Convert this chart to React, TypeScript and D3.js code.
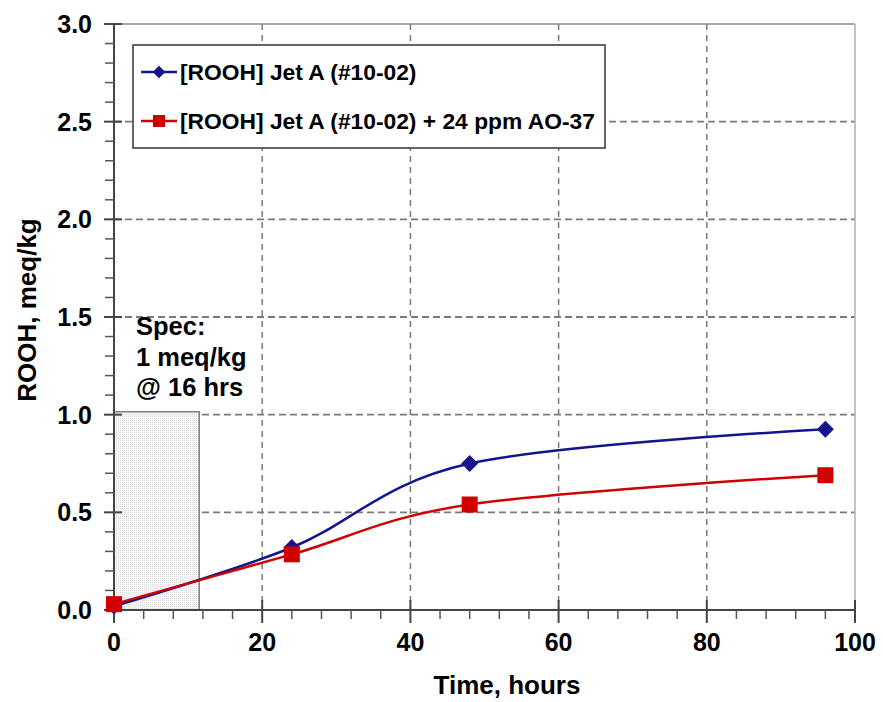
import React from "react";
import * as d3 from "d3";

const hours = [0, 24, 48, 96];
const jetA = [0.02, 0.32, 0.75, 0.925];
const jetAO37 = [0.03, 0.285, 0.54, 0.69];
const seriesNames = ["[ROOH] Jet A (#10-02)", "[ROOH] Jet A (#10-02) + 24 ppm AO-37"];
const xTicks = [0, 20, 40, 60, 80, 100];
const yTicks = [0, 0.5, 1.0, 1.5, 2.0, 2.5, 3.0];
const specLines = ["Spec:", "1 meq/kg", "@ 16 hrs"];
const specBox = { hours: 11.5, rooh: 1.015 };

const W = 883;
const H = 702;
const FONT = "'Liberation Sans', Arial, sans-serif";

const App = () => {
  const x = d3.scaleLinear().domain([0, 100]).range([114, 855]);
  const y = d3.scaleLinear().domain([0, 3]).range([610, 24]);

  const line = d3
    .line<number>()
    .x((_, i) => x(hours[i]))
    .y((d) => y(d))
    .curve(d3.curveCatmullRom.alpha(0));

  const xMinor = d3.range(0, 101, 4).filter((v) => v % 20 !== 0);
  const yMinor = d3.range(0, 31).map((v) => v / 10).filter((v, i) => i % 5 !== 0);

  const blue = "#14148c";
  const red = "#d00000";
  const grid = "#7a7a7a";

  return (
    <svg width={W} height={H} style={{ position: "absolute", left: 0, top: 0, background: "#fff" }}>
      <defs>
        <pattern id="dots" width="2" height="2" patternUnits="userSpaceOnUse">
          <rect width="2" height="2" fill="#f4f4f4" />
          <rect width="1" height="1" fill="#e2e2e2" />
        </pattern>
      </defs>

      {/* grid */}
      {xTicks.slice(1, -1).map((t) => (
        <line key={"gx" + t} x1={x(t)} x2={x(t)} y1={y(3)} y2={y(0)} stroke={grid} strokeWidth={1.5} strokeDasharray="6,5" />
      ))}
      {yTicks.slice(1, -1).map((t) => (
        <line key={"gy" + t} x1={x(0)} x2={x(100)} y1={y(t)} y2={y(t)} stroke={grid} strokeWidth={1.8} strokeDasharray="7,4" />
      ))}

      {/* frame */}
      <line x1={x(0)} x2={x(100)} y1={y(3)} y2={y(3)} stroke="#8a8a8a" strokeWidth={1.5} />
      <line x1={x(100)} x2={x(100)} y1={y(3)} y2={y(0)} stroke="#b0b0b0" strokeWidth={1.5} />

      {/* spec box */}
      <rect
        x={x(0)}
        y={y(specBox.rooh)}
        width={x(specBox.hours) - x(0)}
        height={y(0) - y(specBox.rooh)}
        fill="url(#dots)"
        stroke="#7f7f7f"
        strokeWidth={1.5}
      />
      {specLines.map((s, i) => (
        <text key={s} x={136} y={335 + i * 30.5} fontFamily={FONT} fontWeight="bold" fontSize={25.5} fill="#000">
          {s}
        </text>
      ))}

      {/* axes */}
      <line x1={x(0)} x2={x(0)} y1={y(3)} y2={y(0)} stroke="#444" strokeWidth={2} />
      <line x1={x(0)} x2={x(100)} y1={y(0)} y2={y(0)} stroke="#444" strokeWidth={2} />
      {yMinor.map((t) => (
        <line key={"ym" + t} x1={x(0) - 9} x2={x(0)} y1={y(t)} y2={y(t)} stroke="#555" strokeWidth={1.5} />
      ))}
      {yTicks.map((t) => (
        <g key={"yt" + t}>
          <line x1={x(0) - 10} x2={x(0) + 8} y1={y(t)} y2={y(t)} stroke="#444" strokeWidth={2} />
          <text x={92} y={y(t)} dy="0.36em" textAnchor="end" fontFamily={FONT} fontWeight="bold" fontSize={25}>
            {t.toFixed(1)}
          </text>
        </g>
      ))}
      {xMinor.map((t) => (
        <line key={"xm" + t} x1={x(t)} x2={x(t)} y1={y(0)} y2={y(0) + 9} stroke="#555" strokeWidth={1.5} />
      ))}
      {xTicks.map((t) => (
        <g key={"xt" + t}>
          <line x1={x(t)} x2={x(t)} y1={y(0) - 10} y2={y(0) + 13} stroke="#444" strokeWidth={2} />
          <text x={x(t)} y={651} textAnchor="middle" fontFamily={FONT} fontWeight="bold" fontSize={25}>
            {t}
          </text>
        </g>
      ))}

      <text x={507} y={694} textAnchor="middle" fontFamily={FONT} fontWeight="bold" fontSize={26}>
        Time, hours
      </text>
      <text
        transform={`translate(36,310) rotate(-90)`}
        textAnchor="middle"
        fontFamily={FONT}
        fontWeight="bold"
        fontSize={26}
      >
        ROOH, meq/kg
      </text>

      {/* series */}
      <path d={line(jetA) ?? ""} fill="none" stroke={blue} strokeWidth={2.5} />
      <path d={line(jetAO37) ?? ""} fill="none" stroke={red} strokeWidth={2.5} />
      {jetA.map((v, i) => (
        <rect
          key={"b" + i}
          x={-6}
          y={-6}
          width={12}
          height={12}
          fill={blue}
          transform={`translate(${x(hours[i])},${y(v)}) rotate(45)`}
        />
      ))}
      {jetAO37.map((v, i) => (
        <rect key={"r" + i} x={x(hours[i]) - 8} y={y(v) - 8} width={16} height={16} fill={red} />
      ))}

      {/* legend */}
      <rect x={133} y={45} width={472} height={103} fill="#fff" stroke="#333" strokeWidth={1.5} />
      <line x1={141} x2={177} y1={72} y2={72} stroke={blue} strokeWidth={2.5} />
      <rect x={-4.5} y={-4.5} width={9} height={9} fill={blue} transform="translate(159,72) rotate(45)" />
      <text x={180} y={72} dy="0.36em" fontFamily={FONT} fontWeight="bold" fontSize={22.8}>
        {seriesNames[0]}
      </text>
      <line x1={141} x2={177} y1={121} y2={121} stroke={red} strokeWidth={2.5} />
      <rect x={153} y={115} width={12} height={12} fill={red} />
      <text x={180} y={121} dy="0.36em" fontFamily={FONT} fontWeight="bold" fontSize={22.8}>
        {seriesNames[1]}
      </text>
    </svg>
  );
};

export default App;
